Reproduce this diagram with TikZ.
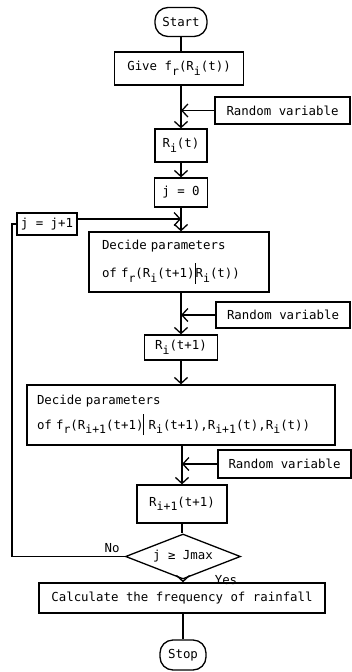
\documentclass[tikz,border=0pt]{standalone}
\usepackage{fontspec}
\setmonofont{DejaVu Sans Mono}
\usetikzlibrary{arrows.meta,shapes.geometric}
\newcommand\lo[1]{\raisebox{-4.5pt}{\fontsize{11.5}{11.5}\selectfont#1}}
\newcommand\vbar[1]{\rule[-#1]{1pt}{21pt}}
\begin{document}
\begin{tikzpicture}[x=1pt,y=-1pt,
  font=\ttfamily\fontsize{12.4}{15}\selectfont,
  line width=1.3pt,
  box/.style={draw, line width=1.3pt, inner sep=0pt},
  term/.style={draw, line width=1.3pt, inner sep=0pt, rounded corners=13pt},
  arr/.style={-{Straight Barb[length=6pt,width=13pt,line width=1.3pt]}}]
\useasboundingbox (0,0) rectangle (352,672);

\node[term, minimum width=52pt, minimum height=29pt] (start) at (181,22) {Start};
\node[box, minimum width=129pt, minimum height=33pt] (give) at (179,68.5) {Give f\lo{r}(R\lo{i}(t))};
\node[box, minimum width=135pt, minimum height=27pt] (rv1) at (282.5,110.5) {Random variable};
\node[box, minimum width=52pt, minimum height=33pt] (ri) at (181,145.5) {R\lo{i}(t)};
\node[box, minimum width=53pt, minimum height=29pt] (j0) at (181,192.5) {j = 0};
\node[box, minimum width=60pt, minimum height=22pt] (jj) at (47,224) {j = j+1};
\node[box, minimum width=180pt, minimum height=60pt, text width=154pt, align=left] (dec1) at (179,262)
  {\mbox{Decide parameters}\\[9pt]\mbox{of f\lo{r}(R\lo{i}(t+1)\vbar{6pt}R\lo{i}(t))}};
\node[box, minimum width=134pt, minimum height=26pt] (rv2) at (283,315) {Random variable};
\node[box, minimum width=73pt, minimum height=25pt] (rit1) at (181,347.5) {R\lo{i}(t+1)};
\node[box, minimum width=308pt, minimum height=60pt, text width=288pt, align=left] (dec2) at (181,415)
  {\mbox{Decide parameters}\\[6pt]\mbox{of f\lo{r}(R\lo{i+1}(t+1)\vbar{6pt} R\lo{i}(t+1),R\lo{i+1}(t),R\lo{i}(t))}};
\node[box, minimum width=133pt, minimum height=28pt] (rv3) at (284.5,464) {Random variable};
\node[box, minimum width=90pt, minimum height=38pt] (r11) at (182,504) {R\lo{i+1}(t+1)};
\node[draw, diamond, line width=1.3pt, inner sep=0pt, aspect=2.5, minimum width=115pt, minimum height=45pt] (dia) at (183,556.5) {j ≥ Jmax};
\node[box, minimum width=286pt, minimum height=30pt] (calc) at (182,598) {Calculate the frequency of rainfall};
\node[term, minimum width=46pt, minimum height=30pt] (stop) at (183,655) {Stop};

\node (no) at (112,548) {No};
\node (yes) at (226,580) {Yes};

\coordinate (lp) at (12,224);

\draw (start.south) -- (start.south |- give.north);
\draw[arr] (give.south -| ri.north) -- (ri.north);
\draw[arr] (rv1.west) -- (rv1.west -| ri.north);
\draw[arr] (ri.south) -- (j0.north);
\draw[arr] (j0.south) -- (j0.south |- dec1.north);
\draw[arr] ([yshift=5pt]jj.east) -- ([yshift=5pt]jj.east -| j0.south);
\draw[arr] (dec1.south -| rit1.north) -- (rit1.north);
\draw[arr] (rv2.west) -- (rv2.west -| rit1.north);
\draw[arr] (rit1.south) -- (rit1.south |- dec2.north);
\draw[arr] (dec2.south -| r11.north) -- (r11.north);
\draw[arr] (rv3.west) -- (rv3.west -| r11.north);
\draw (r11.south) -- (r11.south |- dia.north);
\draw[arr] (dia.south) -- (dia.south |- calc.north);
\draw (calc.south -| stop.north) -- (stop.north);
\draw (dia.west) -| (lp) -- (jj.west);
\end{tikzpicture}
\end{document}
